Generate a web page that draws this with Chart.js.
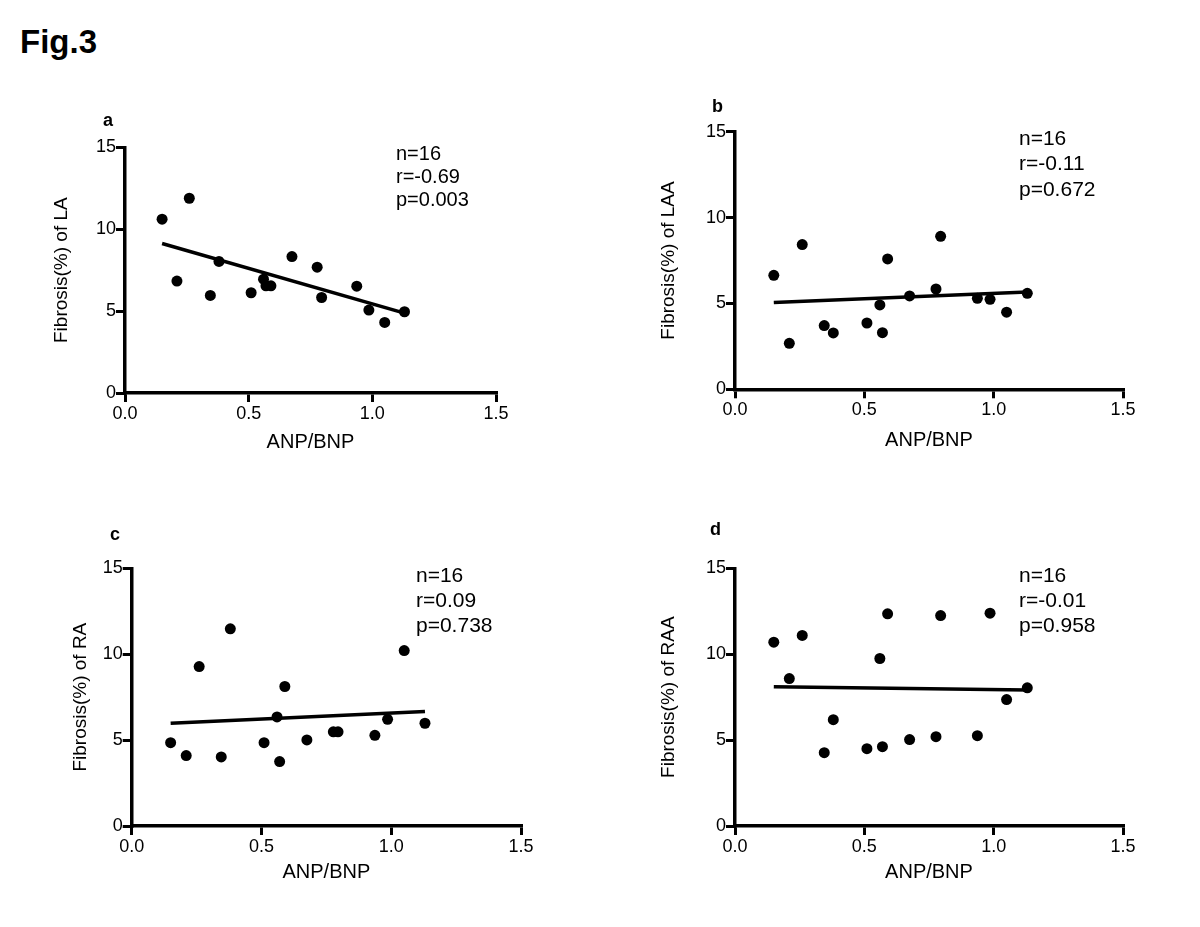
<!DOCTYPE html>
<html>
<head>
<meta charset="utf-8">
<script src="https://cdn.jsdelivr.net/npm/chart.js@4.4.1/dist/chart.umd.min.js"></script>
<style>
  body { margin: 0; background: #fff; font-family: 'Liberation Sans', Arial, sans-serif; color: #000; }
  #page { position: relative; width: 1200px; height: 927px; overflow: hidden; background: #fff; }
  canvas, .txt { position: absolute; }
  .fig { font-weight: bold; font-size: 33px; line-height: 33px; }
  .tag { font-weight: bold; font-size: 18px; line-height: 18px; }
  .stat { white-space: pre; }
</style>
</head>
<body>
<div id="page">
  <div class="txt fig" style="left:20px; top:25px;">Fig.3</div>
</div>
<script>
// ANP/BNP ratio per patient (same for all four panels)
const anpBnp = [0.15, 0.21, 0.26, 0.345, 0.38, 0.51, 0.56, 0.57, 0.59, 0.675, 0.777, 0.795, 0.937, 0.986, 1.05, 1.13];

// fibrosis (%) per region, same order as anpBnp
const fibrosisLA  = [10.61, 6.83, 11.89, 5.96, 8.03, 6.12, 6.95, 6.54, 6.54, 8.33, 7.68, 5.83, 6.52, 5.06, 4.31, 4.96];
const fibrosisLAA = [6.64, 2.68, 8.43, 3.71, 3.28, 3.86, 4.91, 3.30, 7.59, 5.44, 5.84, 8.91, 5.30, 5.24, 4.49, 5.59];
const fibrosisRA  = [4.85, 4.10, 9.28, 4.02, 11.48, 4.85, 6.35, 3.75, 8.12, 5.01, 5.48, 5.48, 5.28, 6.21, 10.21, 5.98];
const fibrosisRAA = [10.70, 8.58, 11.09, 4.27, 6.19, 4.50, 9.75, 4.62, 12.35, 5.03, 5.20, 12.25, 5.26, 12.39, 7.36, 8.04];

// regression line end points
const fitX   = [0.15, 1.13];
const fitLA  = [9.13, 4.88];
const fitLAA = [5.05, 5.67];
const fitRA  = [5.98, 6.66];
const fitRAA = [8.10, 7.92];

const xTicks = [0, 0.5, 1.0, 1.5];
const yTicks = [0, 5, 10, 15];

const panelTags = ['a', 'b', 'c', 'd'];
const yTitles = ['Fibrosis(%) of LA', 'Fibrosis(%) of LAA', 'Fibrosis(%) of RA', 'Fibrosis(%) of RAA'];
const xTitle = 'ANP/BNP';
const nValues = ['16', '16', '16', '16'];
const rValues = ['-0.69', '-0.11', '0.09', '-0.01'];
const pValues = ['0.003', '0.672', '0.738', '0.958'];

const seriesY = [fibrosisLA, fibrosisLAA, fibrosisRA, fibrosisRAA];
const fitY = [fitLA, fitLAA, fitRA, fitRAA];

// where each panel sits on the page
const boxes = [
  { left: 50,  top: 127, w: 476, h: 327, yW: 75,   xH: 61,   padTop: 20.3, tag: [103, 111], stat: [396, 141.8, 20, 23.3] },
  { left: 657, top: 111, w: 496, h: 341, yW: 78,   xH: 62.7, padTop: 20.7, tag: [712, 97],  stat: [1019, 124.8, 21, 25.5] },
  { left: 69,  top: 548, w: 482, h: 336, yW: 62.7, xH: 58,   padTop: 20.3, tag: [110, 525], stat: [416, 561.5, 21, 25] },
  { left: 657, top: 548, w: 496, h: 336, yW: 78,   xH: 58,   padTop: 20.3, tag: [710, 520], stat: [1019, 561.5, 21, 25] },
];

Chart.defaults.font.family = "'Liberation Sans', Arial, sans-serif";
Chart.defaults.color = '#000';

const page = document.getElementById('page');

boxes.forEach((b, i) => {
  const cv = document.createElement('canvas');
  cv.width = b.w; cv.height = b.h;
  cv.style.left = b.left + 'px'; cv.style.top = b.top + 'px';
  page.appendChild(cv);

  const tag = document.createElement('div');
  tag.className = 'txt tag';
  tag.style.left = b.tag[0] + 'px'; tag.style.top = b.tag[1] + 'px';
  tag.textContent = panelTags[i];
  page.appendChild(tag);

  const st = document.createElement('div');
  st.className = 'txt stat';
  st.style.left = b.stat[0] + 'px'; st.style.top = b.stat[1] + 'px';
  st.style.fontSize = b.stat[2] + 'px'; st.style.lineHeight = b.stat[3] + 'px';
  st.textContent = 'n=' + nValues[i] + '\nr=' + rValues[i] + '\np=' + pValues[i];
  page.appendChild(st);

  const axisGrid = { drawOnChartArea: false, color: '#000', lineWidth: 3, tickLength: 9, tickWidth: 3, tickColor: '#000' };

  new Chart(cv, {
    type: 'scatter',
    data: {
      datasets: [
        {
          data: anpBnp.map((x, k) => ({ x, y: seriesY[i][k] })),
          pointRadius: 5.5,
          pointBackgroundColor: '#000',
          pointBorderWidth: 0,
        },
        {
          data: fitX.map((x, k) => ({ x, y: fitY[i][k] })),
          showLine: true,
          borderColor: '#000',
          borderWidth: 3.5,
          pointRadius: 0,
        },
      ],
    },
    options: {
      responsive: false,
      animation: false,
      events: [],
      layout: { padding: { left: 0, top: b.padTop, right: 30, bottom: 0 } },
      plugins: { legend: { display: false }, tooltip: { enabled: false } },
      scales: {
        x: {
          type: 'linear', min: xTicks[0], max: xTicks[xTicks.length - 1],
          afterBuildTicks: s => { s.ticks = xTicks.map(v => ({ value: v })); },
          afterFit: s => { s.height = b.xH; },
          ticks: { font: { size: 18 }, padding: 1, maxRotation: 0, callback: v => v.toFixed(1) },
          grid: axisGrid,
          border: { color: '#000', width: 3.5 },
          title: { display: true, text: xTitle, font: { size: 20 }, padding: 0 },
        },
        y: {
          type: 'linear', min: yTicks[0], max: yTicks[yTicks.length - 1],
          afterBuildTicks: s => { s.ticks = yTicks.map(v => ({ value: v })); },
          afterFit: s => { s.width = b.yW; },
          ticks: { font: { size: 18 }, padding: 0, callback: v => String(v) },
          grid: axisGrid,
          border: { color: '#000', width: 3.5 },
          title: { display: true, text: yTitles[i], font: { size: 19 }, padding: 0 },
        },
      },
    },
  });
});
</script>
</body>
</html>
